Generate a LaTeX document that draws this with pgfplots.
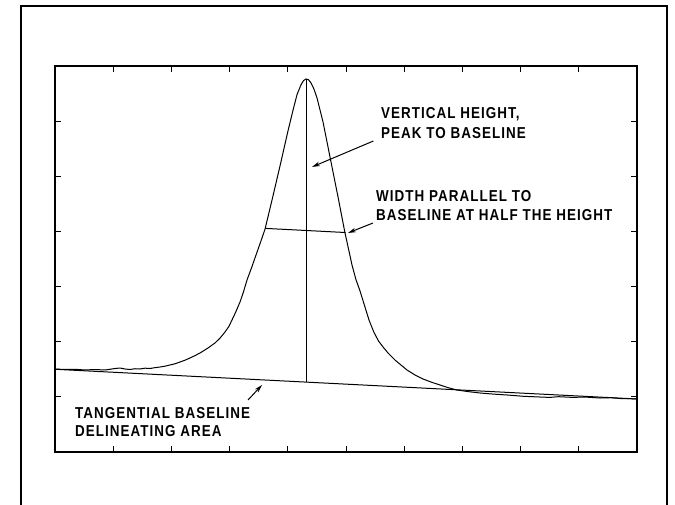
\documentclass[border=0pt]{standalone}
\usepackage{pgfplots}
\pgfplotsset{compat=1.18}
\usepackage{fontspec}
\usetikzlibrary{arrows.meta}
\newfontfamily\labelfont[FakeStretch=0.85, LetterSpace=6.6]{Liberation Sans}

% chromatogram trace: detector signal against time
\pgfplotstableread{
x y
0.000 1.505
0.172 1.496
0.344 1.500
0.515 1.487
0.687 1.496
0.859 1.487
1.031 1.514
1.117 1.523
1.203 1.505
1.289 1.496
1.375 1.510
1.460 1.505
1.546 1.520
1.632 1.514
1.718 1.530
1.804 1.541
1.890 1.556
1.976 1.578
2.062 1.600
2.148 1.632
2.234 1.665
2.320 1.705
2.405 1.748
2.491 1.795
2.560 1.840
2.629 1.886
2.749 1.977
2.835 2.065
2.921 2.176
2.990 2.280
3.041 2.394
3.110 2.550
3.179 2.720
3.240 2.910
3.299 3.119
3.380 3.350
3.454 3.573
3.530 3.800
3.608 4.040
3.729 4.570
3.866 5.187
4.003 5.822
4.090 6.200
4.158 6.480
4.227 6.660
4.270 6.735
4.313 6.765
4.356 6.750
4.399 6.692
4.450 6.580
4.502 6.420
4.605 5.985
4.725 5.350
4.863 4.625
4.983 3.970
5.050 3.650
5.103 3.391
5.170 3.130
5.241 2.920
5.320 2.650
5.395 2.394
5.480 2.170
5.560 2.010
5.640 1.900
5.722 1.795
5.850 1.660
6.048 1.487
6.180 1.400
6.323 1.324
6.470 1.265
6.615 1.215
6.760 1.165
6.907 1.124
7.100 1.095
7.302 1.070
7.530 1.050
7.766 1.034
8.050 1.010
8.333 0.997
8.500 0.990
8.650 1.003
8.900 0.990
9.100 0.997
9.364 0.979
9.550 0.985
9.708 0.970
9.850 0.968
10.000 0.961
}\trace

\tikzset{lbl/.style={anchor=base west, inner sep=0pt,
  font=\labelfont\bfseries\fontsize{15.8bp}{19.7bp}\selectfont}}

\begin{document}
\begin{tikzpicture}[x=1bp,y=1bp]
\useasboundingbox (0,0) rectangle (675,505);
% outer frame
\draw[line width=1.1bp] (21,0) -- (21,499) -- (667,499) -- (667,0);

\begin{axis}[
  at={(55bp,53bp)}, anchor=south west,
  scale only axis, width=582bp, height=386bp,
  xmin=0, xmax=10, ymin=0, ymax=7,
  xtick={1,...,9}, ytick={1,...,6},
  xticklabels={}, yticklabels={},
  tick align=inside, major tick length=6bp,
  tick style={line width=0.9bp, black},
  axis line style={line width=1.1bp},
  clip=false,
]
\addplot[black, line width=1bp] table[x=x, y=y] {\trace};
% tangential baseline
\addplot[black, line width=1bp] coordinates {(0,1.500) (10,0.961)};
% vertical height, peak to baseline
\addplot[black, line width=1bp] coordinates {(4.313,6.765) (4.313,1.268)};
% width at half the height
\addplot[black, line width=1bp] coordinates {(3.615,4.055) (4.995,3.980)};
% pointer arrows
\draw[line width=1bp, -{Stealth[length=8bp, width=4.5bp]}]
  (axis cs:5.471,5.640) -- (axis cs:4.416,5.169);
\draw[line width=1bp, -{Stealth[length=8bp, width=4.5bp]}]
  (axis cs:5.464,4.153) -- (axis cs:5.034,3.972);
\draw[line width=1bp, -{Stealth[length=8bp, width=4.5bp]}]
  (axis cs:3.316,0.943) -- (axis cs:3.557,1.215);
\end{axis}

\node[lbl] at (381,386) {VERTICAL HEIGHT,};
\node[lbl] at (381,366.3) {PEAK TO BASELINE};
\node[lbl] at (376,303.3) {WIDTH PARALLEL TO};
\node[lbl] at (376,284) {BASELINE AT HALF THE HEIGHT};
\node[lbl] at (75,86) {TANGENTIAL BASELINE};
\node[lbl] at (75,68) {DELINEATING AREA};
\end{tikzpicture}
\end{document}
